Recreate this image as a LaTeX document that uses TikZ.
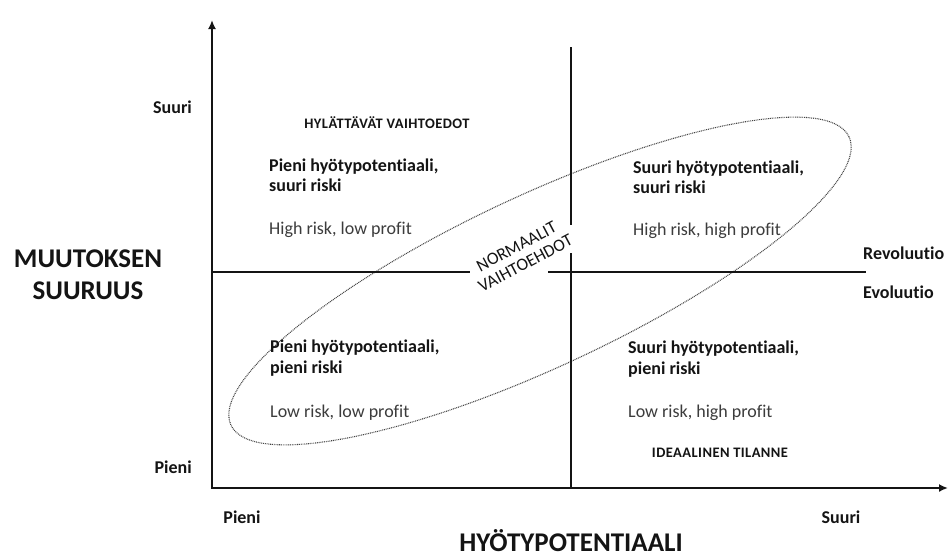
\documentclass[tikz,border=0pt]{standalone}
\usepackage{fontspec}
\setmainfont{Carlito}[Ligatures=NoCommon]
\usetikzlibrary{arrows.meta}
\definecolor{ink}{HTML}{141414}
\definecolor{soft}{HTML}{3C3C3C}
\definecolor{dots}{HTML}{444444}
\begin{document}
\begin{tikzpicture}[x=1pt,y=-1pt,
  axisline/.style={line width=1.8pt, draw=ink, line join=miter},
  divider/.style={line width=1.8pt, draw=ink},
  zone/.style={dash pattern=on 0.9pt off 0.9pt, line width=1.1pt, draw=dots},
  title/.style={font=\bfseries\fontsize{18}{20.5}\selectfont, text=ink, inner sep=0pt, align=left},
  note/.style={font=\fontsize{18}{20.5}\selectfont, text=soft, inner sep=0pt},
  tag/.style={font=\bfseries\fontsize{14.5}{17}\selectfont\addfontfeature{LetterSpace=3}, text=ink, inner sep=0pt},
  axistitle/.style={font=\bfseries\fontsize{27}{32}\selectfont, text=ink, inner sep=0pt, align=center},
  ticklabel/.style={font=\bfseries\fontsize{18}{21}\selectfont, text=ink, inner sep=0pt},
  zonelabel/.style={font=\fontsize{17.5}{19}\selectfont, text=ink, inner sep=0pt, align=center},
]
% canvas
\path[fill=white, use as bounding box] (0,0) rectangle (949,557);

% axes and dividers
\coordinate (O) at (212,488);
\coordinate (Ytop) at (212,20);
\coordinate (Xend) at (948,488);
\coordinate (V1) at (571,47);
\coordinate (V2) at (571,225);
\coordinate (V3) at (571,253);
\coordinate (V4) at (571,488);
\coordinate (H1) at (212,272);
\coordinate (H2) at (470,272);
\coordinate (H3) at (548,272);
\coordinate (H4) at (866,272);
\coordinate (E) at (540,281);

% dotted zone of normal alternatives
\draw[zone, rotate around={25:(E)}] (E) ellipse [x radius=341pt, y radius=86pt];

\draw[divider] (V1) -- (V2);
\draw[divider] (V3) -- (V4);
\draw[divider] (H1) -- (H2);
\draw[divider] (H3) -- (H4);
\draw[axisline, {Latex[length=9pt,width=8pt]}-{Latex[length=9pt,width=8pt]}] (Ytop) -- (O) -- (Xend);

% axis labels
\node[ticklabel, anchor=east] (ysuuri) at (192,107) {Suuri};
\node[ticklabel, anchor=east] (ypieni) at (192,467) {Pieni};
\node[ticklabel] (xpieni) at (242,517) {Pieni};
\node[ticklabel] (xsuuri) at (841,517) {Suuri};
\node[axistitle, anchor=base] (xtitle) at (571,551) {HYÖTYPOTENTIAALI};
\node[axistitle] (ytitle) at (88,275) {MUUTOKSEN\\SUURUUS};
\node[ticklabel, anchor=west] (revo) at (863,253) {Revoluutio};
\node[ticklabel, anchor=west] (evo) at (863,292) {Evoluutio};

% quadrant tags
\node[tag] (reject) at (387,123) {HYLÄTTÄVÄT VAIHTOEDOT};
\node[tag] (ideal) at (720,453) {IDEAALINEN TILANNE};

% quadrants
\node[title, anchor=west] (tl) at (269,175) {Pieni hyötypotentiaali,\\suuri riski};
\node[note, anchor=west] (tlnote) at (269,230) {High risk, low profit};
\node[title, anchor=west] (tr) at (633,177) {Suuri hyötypotentiaali,\\suuri riski};
\node[note, anchor=west] (trnote) at (633,231) {High risk, high profit};
\node[title, anchor=west] (bl) at (270,358) {Pieni hyötypotentiaali,\\pieni riski};
\node[note, anchor=west] (blnote) at (270,413) {Low risk, low profit};
\node[title, anchor=west] (br) at (628,359) {Suuri hyötypotentiaali,\\pieni riski};
\node[note, anchor=west] (brnote) at (628,413) {Low risk, high profit};

% label of the dotted zone
\node[zonelabel, rotate=28] (normal) at (521,255) {NORMAALIT\\VAIHTOEHDOT};
\end{tikzpicture}
\end{document}
